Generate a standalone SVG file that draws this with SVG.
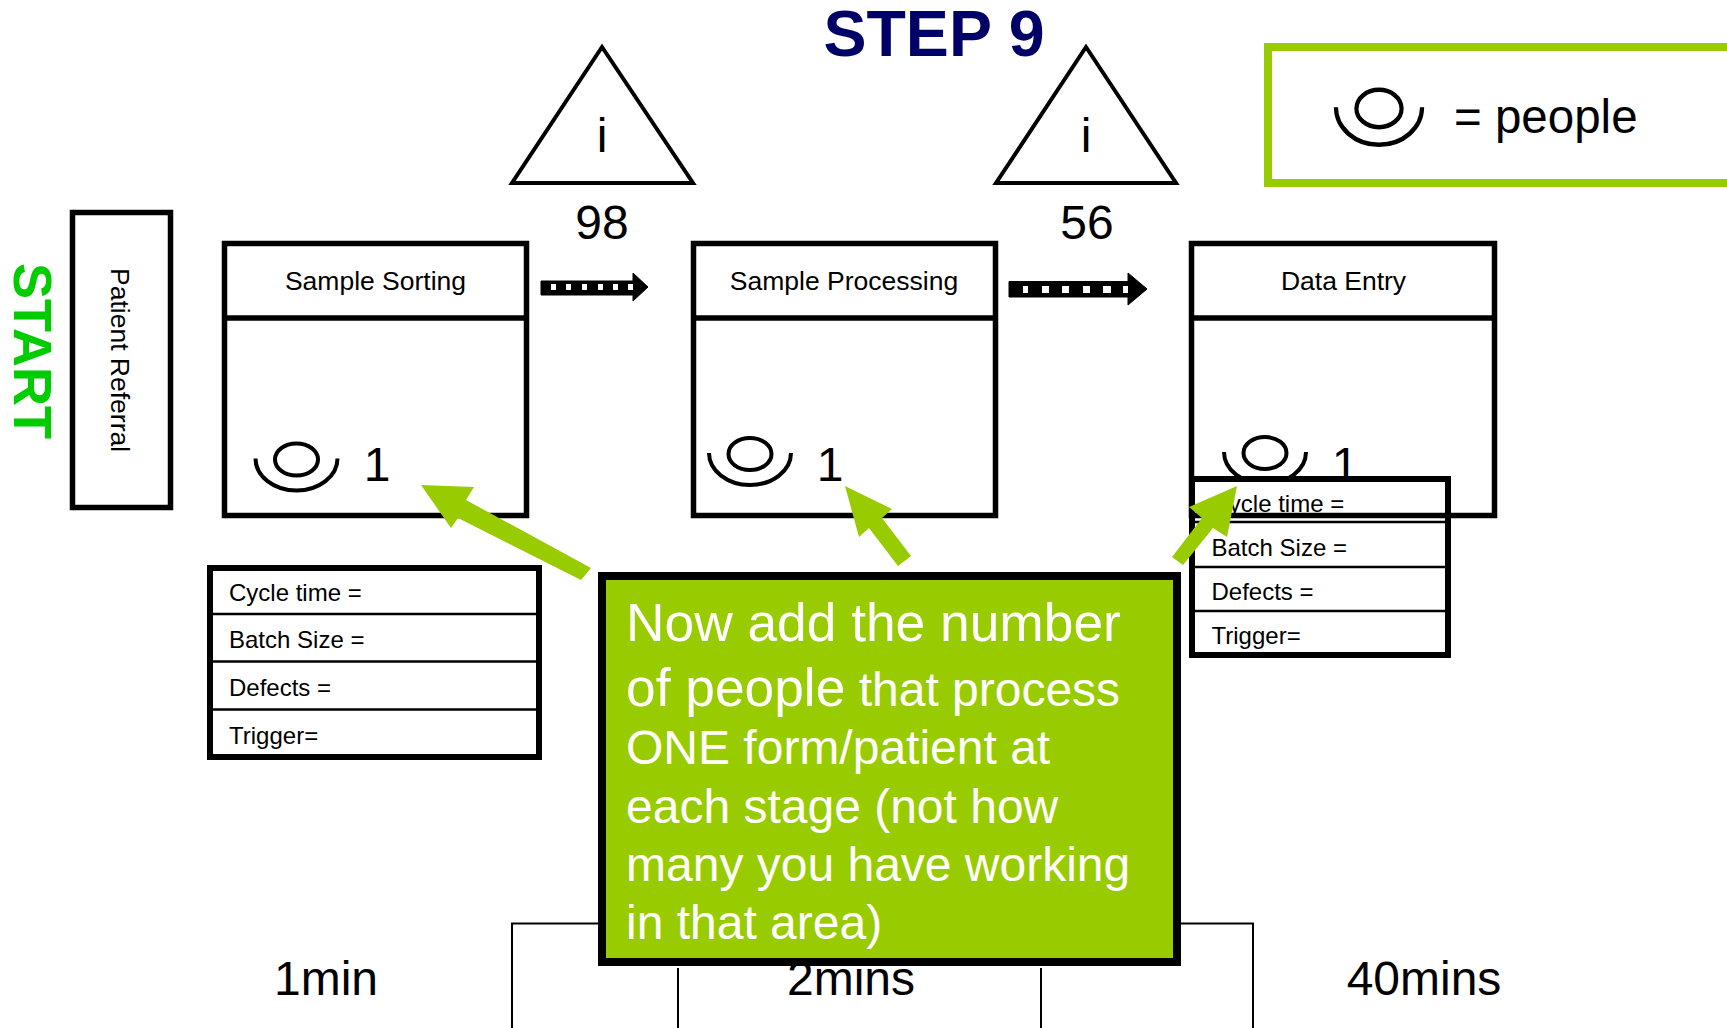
<svg xmlns="http://www.w3.org/2000/svg" width="1727" height="1028" viewBox="0 0 1727 1028">
<defs>
<g id="person" fill="none" stroke="#000" stroke-width="4"><ellipse cx="0" cy="0" rx="21.500" ry="16"/><path d="M-41,-1 A41,32 0 0 0 41,-1"/></g>
</defs>
<style>
text{font-family:"Liberation Sans",Arial,sans-serif;fill:#000}
.box{fill:#fff;stroke:#000;stroke-width:5.500}
.thick{fill:none;stroke:#000;stroke-width:5.500}
.tbl{fill:#fff;stroke:#000;stroke-width:6}
.thin{stroke:#000;stroke-width:2.500;fill:none}
.t24{font-size:24px}
.t26{font-size:26.500px;text-anchor:middle}
.t48{font-size:48px}
.mid{text-anchor:middle}
.tri{fill:#fff;stroke:#000;stroke-width:4}
.grn{fill:#99cc00}
.wt{fill:#fff;font-size:48px}
.sq{fill:#fff}
</style>
<rect width="1727" height="1028" fill="#fff"/>
<text x="934" y="56" font-size="64.500" font-weight="700" text-anchor="middle" style="fill:#000066">STEP 9</text>
<g id="legend"><rect x="1268" y="47" width="480" height="136" fill="#fff" stroke="#99cc00" stroke-width="8"/>
<use href="#person" transform="translate(1379,108.500) scale(1.05,1.17)"/>
<text x="1454" y="133" font-size="47.500">= people</text></g>
<g id="start"><text transform="translate(14,263) rotate(90)" font-size="54" font-weight="700" style="fill:#00cc00">START</text></g>
<g id="patient-referral"><rect x="72.500" y="212.500" width="98" height="295" class="box"/>
<text transform="translate(111,268) rotate(90)" font-size="26.500">Patient Referral</text></g>
<g id="inventory-1"><polygon points="602,47 512,183 693,183" class="tri"/><text x="602" y="152" class="t48 mid">i</text><text x="602" y="239" class="t48 mid">98</text></g>
<g id="inventory-2"><polygon points="1086,47 996,183 1176,183" class="tri"/><text x="1086" y="152" class="t48 mid">i</text><text x="1087" y="239" class="t48 mid">56</text></g>
<g id="process-1"><rect x="224.500" y="243.500" width="302" height="272" class="box"/><path d="M222,318H529" class="thick"/><text x="375.500" y="290" class="t26">Sample Sorting</text>
<use href="#person" x="296.500" y="459.500"/><text x="377" y="481" class="t48 mid">1</text></g>
<g id="process-2"><rect x="693.500" y="243.500" width="302" height="272" class="box"/><path d="M691,318H998" class="thick"/><text x="844" y="290" class="t26">Sample Processing</text>
<use href="#person" x="750" y="454"/><text x="830" y="481" class="t48 mid">1</text></g>
<g id="process-3"><rect x="1191.500" y="243.500" width="303" height="272" class="box"/><path d="M1189,318H1497" class="thick"/><text x="1343.500" y="290" class="t26">Data Entry</text>
<use href="#person" x="1265" y="453"/><text x="1345" y="481" class="t48 mid">1</text></g>
<g id="data-box-1"><rect x="210" y="568" width="329" height="189" class="tbl"/><path d="M210,614H539M210,661.500H539M210,709.500H539" class="thin"/>
<text x="229" y="601" class="t24">Cycle time =</text><text x="229" y="648" class="t24">Batch Size =</text><text x="229" y="696" class="t24">Defects =</text><text x="229" y="744" class="t24">Trigger=</text></g>
<g id="data-box-3"><rect x="1192" y="479" width="256" height="176" class="tbl"/><path d="M1192,522H1448M1192,567H1448M1192,611H1448" class="thin"/><path d="M1189,515.500H1448" class="thick"/>
<text x="1211.500" y="512" class="t24">Cycle time =</text><text x="1211.500" y="556" class="t24">Batch Size =</text><text x="1211.500" y="600" class="t24">Defects =</text><text x="1211.500" y="644" class="t24">Trigger=</text></g>
<g id="timeline"><path d="M512,1028V923.500H1253V1028" fill="none" stroke="#000" stroke-width="2"/><path d="M678,968V1028M1041,968V1028" fill="none" stroke="#000" stroke-width="2"/>
<text x="326" y="995" class="t48 mid">1min</text><text x="851" y="995" class="t48 mid">2mins</text><text x="1424" y="995" class="t48 mid">40mins</text></g>
<g id="connectors">
<g id="push-1"><path d="M541,281H633V273L648,287L633,301V295H541Z" stroke="#000" stroke-width="1" stroke-linejoin="round"/><path class="sq" d="M551,284h5v6h-5zM566,284h5v6h-5zM582,284h5v6h-5zM598,284h5v6h-5zM613,284h5v6h-5zM628,284h5v6h-5z"/></g>
<g id="push-2"><path d="M1009,281.500H1128V273L1147,289L1128,305V297H1009Z" stroke="#000" stroke-width="1" stroke-linejoin="round"/><path class="sq" d="M1023,286h5v7h-5zM1042,286h7v7h-7zM1062,286h7v7h-7zM1083,286h7v7h-7zM1103,286h8v7h-8zM1123,286h5v7h-5z"/></g>
<polygon class="grn" points="421,485 474,487 466,500 591,568 581,580 458,518 451,528"/>
<polygon class="grn" points="845,486 892,509 882,518 911,556 898,566 869,528 859,537"/>
<polygon class="grn" points="1237,486 1189,507 1202,518 1172,557 1183,565 1213,528 1227,537"/>
</g>
<g id="callout"><rect x="602" y="576" width="575" height="386" fill="#99cc00" stroke="#000" stroke-width="8"/>
<text x="626" y="641" class="wt" style="font-size:53.300px">Now add the number</text>
<text x="626" y="706" class="wt"><tspan style="font-size:53.300px">of people</tspan> that process</text>
<text x="626" y="764" class="wt">ONE form/patient at</text>
<text x="626" y="823" class="wt">each stage (not how</text>
<text x="626" y="881" class="wt">many you have working</text>
<text x="626" y="939" class="wt">in that area)</text></g>
</svg>
